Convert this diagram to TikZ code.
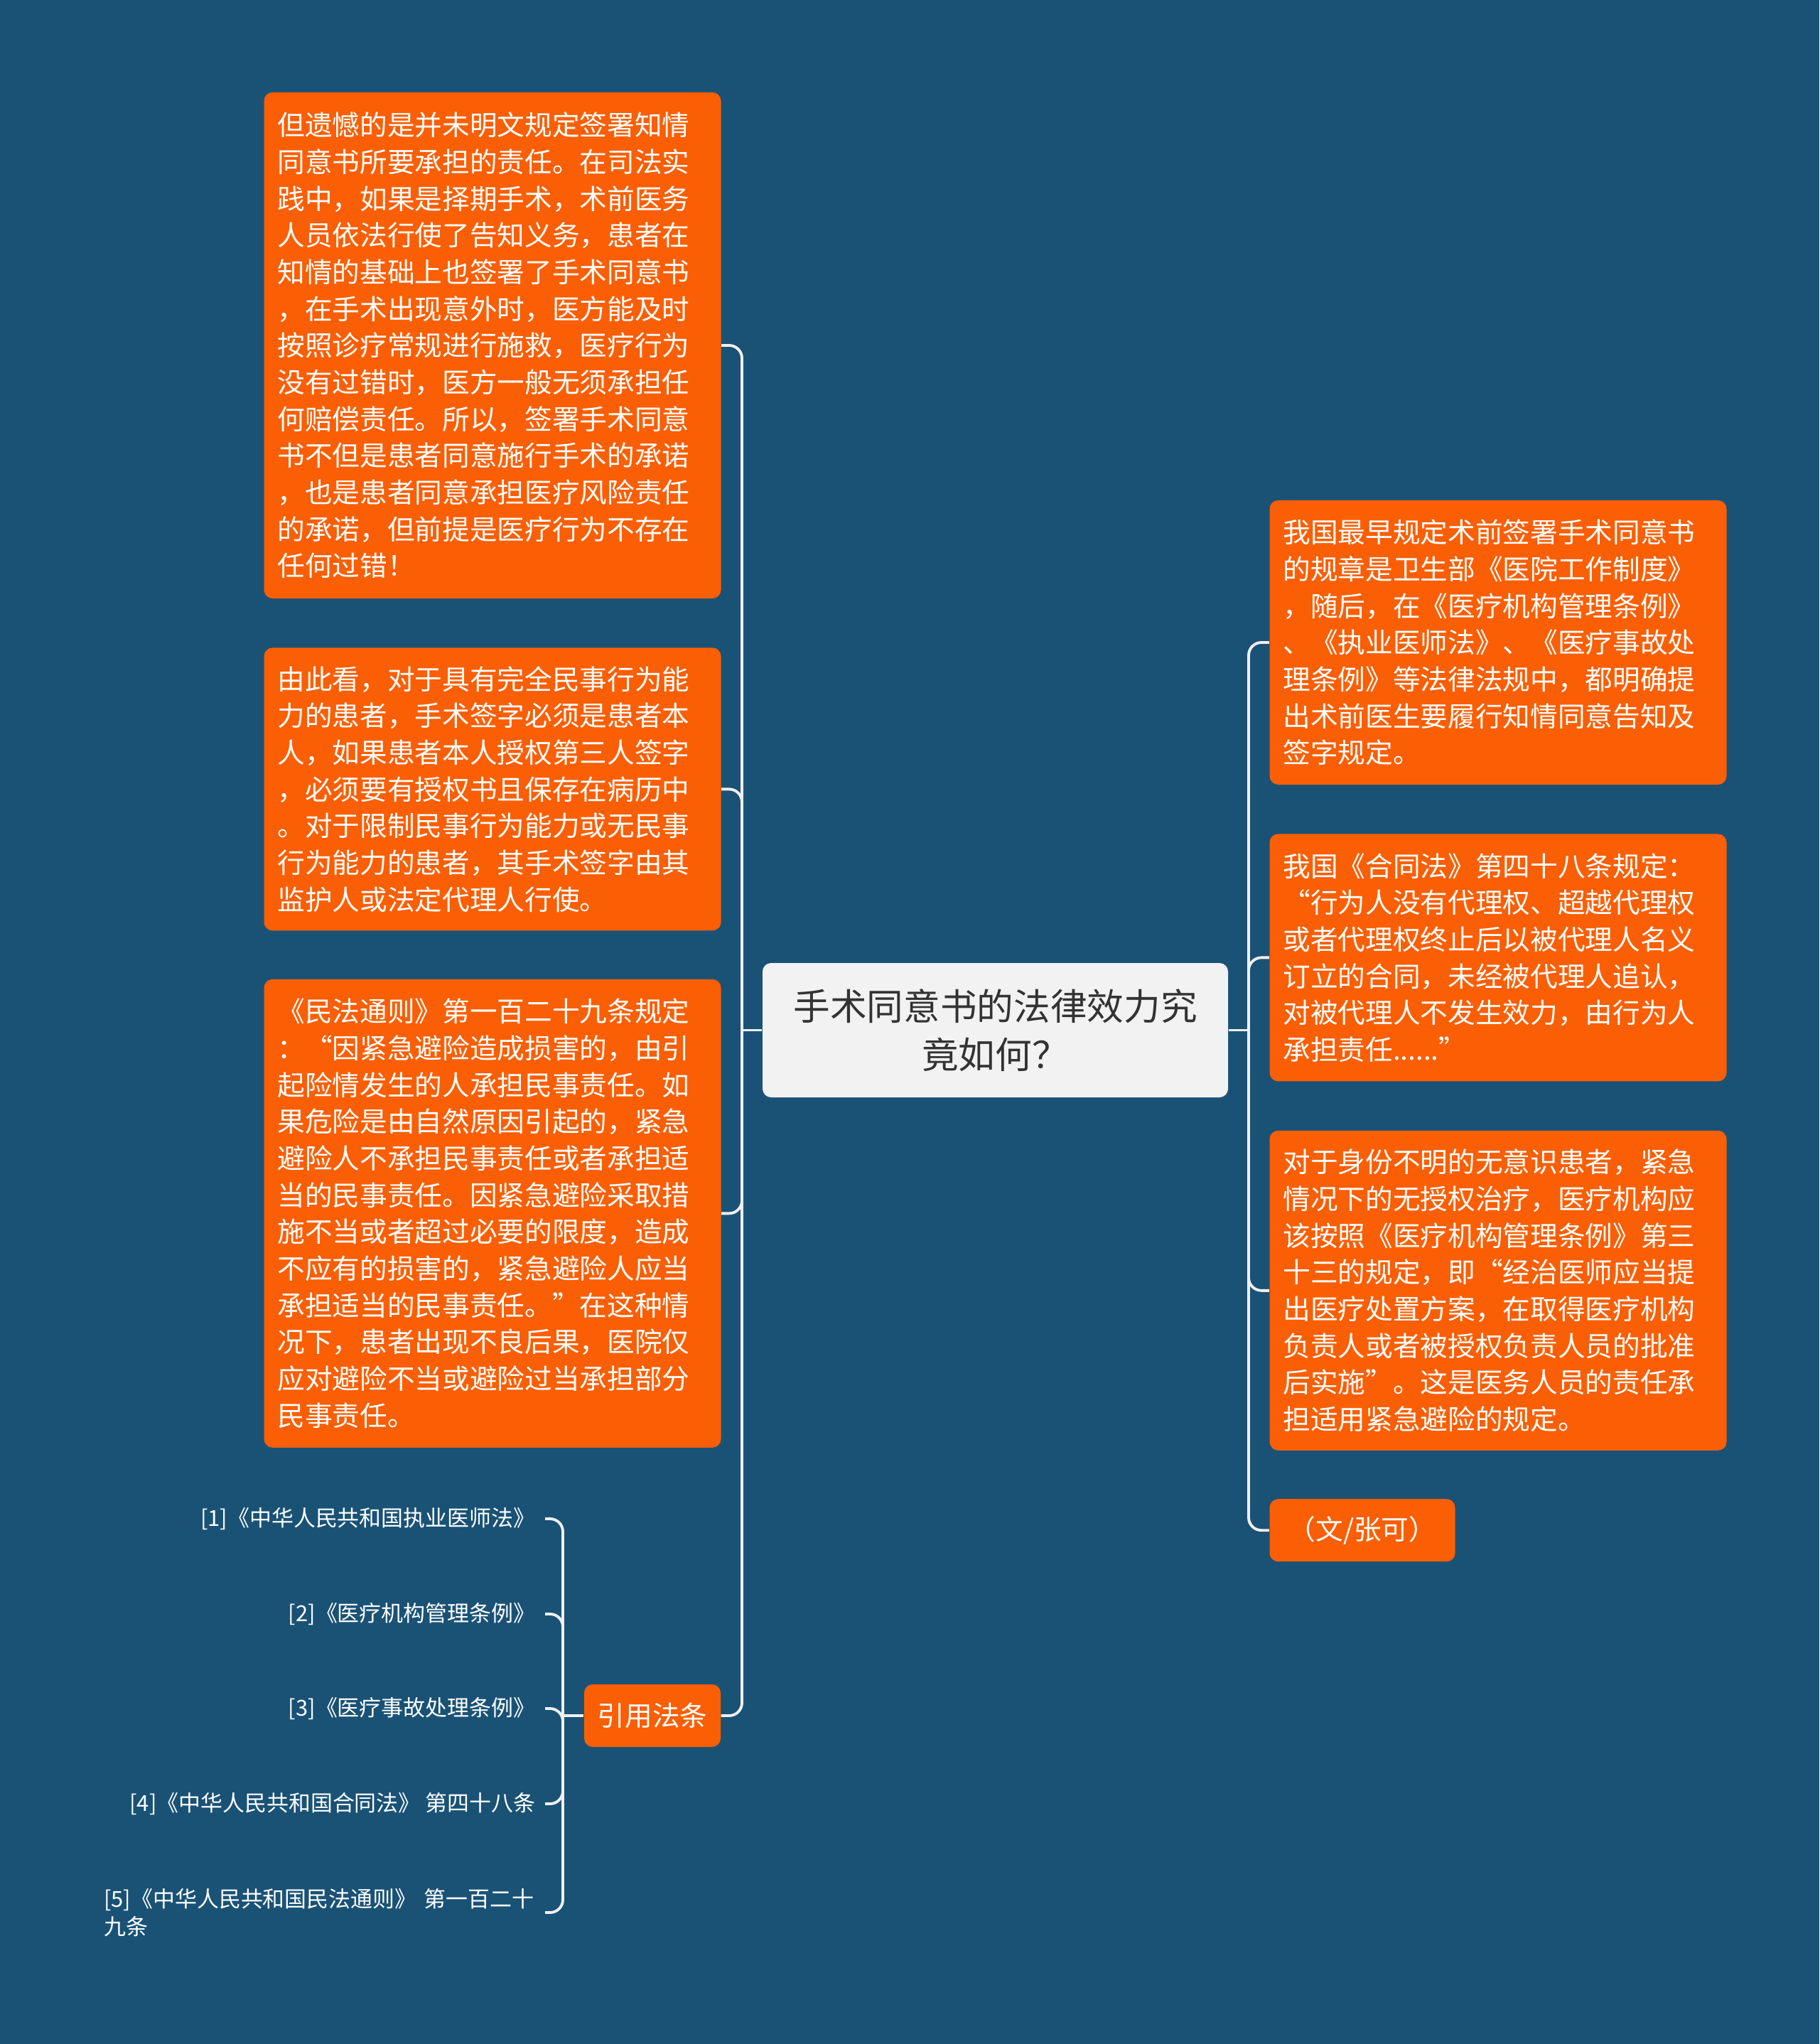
\documentclass[tikz,border=0pt]{standalone}
\usepackage{fontspec}
\setmainfont{Noto Sans CJK SC}
\usepackage{xcolor}
\usetikzlibrary{positioning}
\definecolor{bgblue}{HTML}{1A5276}
\definecolor{boxorange}{HTML}{FA5F05}
\definecolor{rootgray}{HTML}{F2F2F2}
\definecolor{roottext}{HTML}{333333}
\definecolor{linkwhite}{HTML}{F0F0F0}

\begin{document}
\begin{tikzpicture}[
node distance=0.68cm,
topicbox/.style={fill=rootgray, text=roottext, rounded corners=0.12cm, align=center, inner sep=0pt, font=\fontsize{14.7}{19.3}\selectfont, minimum width=6.55cm, minimum height=1.89cm},
cardbox/.style={fill=boxorange, text=white, rounded corners=0.12cm, align=left, text width=6.05cm, inner xsep=0.19cm, inner ysep=0.15cm, font=\fontsize{11}{14.7}\selectfont},
tagbox/.style={fill=boxorange, text=white, rounded corners=0.12cm, align=center, inner sep=0pt, font=\fontsize{11}{14.7}\selectfont, minimum height=0.88cm},
refitem/.style={text=white, align=left, anchor=east, inner xsep=0.13cm, inner ysep=0.05cm, font=\fontsize{8.8}{10.9}\selectfont},
linkline/.style={draw=linkwhite, line width=1.1pt, rounded corners=0.18cm}
]

% ====== Background ======
\fill[bgblue] (0,0) rectangle (25.6,-28.76);

% ====== Central Topic ======
\node[topicbox] (root) at (14.005,-14.495) {手术同意书的法律效力究\\竟如何？};

% ====== Left Branch ======
\node[cardbox, minimum height=7.12cm] (caution) at (6.93,-4.86) {但遗憾的是并未明文规定签署知情\\同意书所要承担的责任。在司法实\\践中，如果是择期手术，术前医务\\人员依法行使了告知义务，患者在\\知情的基础上也签署了手术同意书\\，在手术出现意外时，医方能及时\\按照诊疗常规进行施救，医疗行为\\没有过错时，医方一般无须承担任\\何赔偿责任。所以，签署手术同意\\书不但是患者同意施行手术的承诺\\，也是患者同意承担医疗风险责任\\的承诺，但前提是医疗行为不存在\\任何过错！};
\node[cardbox, minimum height=3.98cm, below=of caution] (capacity) {由此看，对于具有完全民事行为能\\力的患者，手术签字必须是患者本\\人，如果患者本人授权第三人签字\\，必须要有授权书且保存在病历中\\。对于限制民事行为能力或无民事\\行为能力的患者，其手术签字由其\\监护人或法定代理人行使。};
\node[cardbox, minimum height=6.59cm, below=0.67cm of capacity] (necessity) {《民法通则》第一百二十九条规定\\：“因紧急避险造成损害的，由引\\起险情发生的人承担民事责任。如\\果危险是由自然原因引起的，紧急\\避险人不承担民事责任或者承担适\\当的民事责任。因紧急避险采取措\\施不当或者超过必要的限度，造成\\不应有的损害的，紧急避险人应当\\承担适当的民事责任。”在这种情\\况下，患者出现不良后果，医院仅\\应对避险不当或避险过当承担部分\\民事责任。};
\node[tagbox, minimum width=1.92cm] (cite) at (9.18,-24.14) {引用法条};

% ====== Cited Laws ======
\node[refitem] (ref1) at (7.67,-21.37) {[1]《中华人民共和国执业医师法》};
\node[refitem] (ref2) at (7.67,-22.71) {[2]《医疗机构管理条例》};
\node[refitem] (ref3) at (7.67,-24.04) {[3]《医疗事故处理条例》};
\node[refitem] (ref4) at (7.67,-25.38) {[4]《中华人民共和国合同法》 第四十八条};
\node[refitem, text width=6.07cm] (ref5) at (7.67,-26.91) {[5]《中华人民共和国民法通则》~第一百二十\\九条};

% ====== Right Branch ======
\node[cardbox, minimum height=4.00cm] (rule) at (21.08,-9.04) {我国最早规定术前签署手术同意书\\的规章是卫生部《医院工作制度》\\，随后，在《医疗机构管理条例》\\、《执业医师法》、《医疗事故处\\理条例》等法律法规中，都明确提\\出术前医生要履行知情同意告知及\\签字规定。};
\node[cardbox, minimum height=3.48cm, below=of rule] (contract) {我国《合同法》第四十八条规定：\\“行为人没有代理权、超越代理权\\或者代理权终止后以被代理人名义\\订立的合同，未经被代理人追认，\\对被代理人不发生效力，由行为人\\承担责任......”};
\node[cardbox, minimum height=4.50cm, below=of contract] (emergency) {对于身份不明的无意识患者，紧急\\情况下的无授权治疗，医疗机构应\\该按照《医疗机构管理条例》第三\\十三的规定，即“经治医师应当提\\出医疗处置方案，在取得医疗机构\\负责人或者被授权负责人员的批准\\后实施”。这是医务人员的责任承\\担适用紧急避险的规定。};
\node[tagbox, minimum width=2.61cm, below=0.67cm of emergency.south west, anchor=north west] (author) {（文/张可）};

% ====== Connections ======
\coordinate (spineL) at (10.44,0);
\coordinate (spineR) at (17.57,0);
\coordinate (spineC) at (7.92,0);

\draw[linkline] (root.west) -- (spineL |- root.west);
\draw[linkline] (spineL |- root.west) |- (caution.east);
\draw[linkline] (spineL |- root.west) |- (capacity.east);
\draw[linkline] (spineL |- root.west) |- (necessity.east);
\draw[linkline] (spineL |- root.west) |- (cite.east);

\draw[linkline] (root.east) -- (spineR |- root.east);
\draw[linkline] (spineR |- root.east) |- (rule.west);
\draw[linkline] (spineR |- root.east) |- (contract.west);
\draw[linkline] (spineR |- root.east) |- (emergency.west);
\draw[linkline] (spineR |- root.east) |- (author.west);

\draw[linkline] (cite.west) -- (spineC |- cite.west);
\draw[linkline] (spineC |- cite.west) |- (ref1.east);
\draw[linkline] (spineC |- cite.west) |- (ref2.east);
\draw[linkline] (spineC |- cite.west) |- (ref3.east);
\draw[linkline] (spineC |- cite.west) |- (ref4.east);
\draw[linkline] (spineC |- cite.west) |- (ref5.east);

\end{tikzpicture}
\end{document}
